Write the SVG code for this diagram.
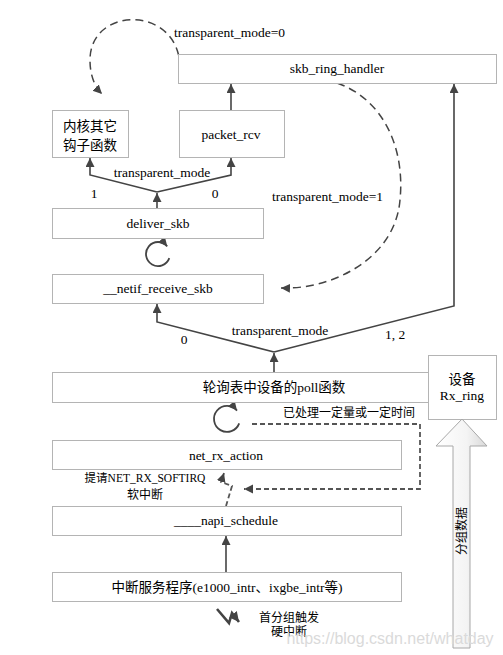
<svg xmlns="http://www.w3.org/2000/svg" width="503" height="655" viewBox="0 0 503 655">
<style>
.box{fill:#fff;stroke:#b4b4b4;stroke-width:1}
.t{font-family:"Liberation Serif","Noto Sans CJK SC",serif;font-size:13.5px;fill:#000;text-anchor:middle}
.ts{font-family:"Liberation Serif","Noto Sans CJK SC",serif;font-size:13.5px;fill:#000;text-anchor:start}
.s{font-family:"Liberation Serif","Noto Sans CJK SC",serif;font-size:12px;fill:#000;text-anchor:middle}
.ss{font-family:"Liberation Serif","Noto Sans CJK SC",serif;font-size:12px;fill:#000;text-anchor:start}
.ln{fill:none;stroke:#444;stroke-width:1.6}
.dash{fill:none;stroke:#444;stroke-width:1.5;stroke-dasharray:8 5}
.dash2{fill:none;stroke:#555;stroke-width:1.8;stroke-dasharray:5 3}
</style>
<defs>
<marker id="ah" markerUnits="userSpaceOnUse" markerWidth="12" markerHeight="12" refX="9" refY="4.5" orient="auto">
<path d="M0,0 L9,4.5 L0,9 z" fill="#444"/>
</marker>
<marker id="ahb" markerUnits="userSpaceOnUse" markerWidth="14" markerHeight="14" refX="10" refY="5" orient="auto">
<path d="M0,0 L10,5 L0,10 z" fill="#444"/>
</marker>
<linearGradient id="hg" x1="0" y1="0" x2="1" y2="0">
<stop offset="0" stop-color="#ffffff"/>
<stop offset="0.6" stop-color="#f4f4f4"/>
<stop offset="1" stop-color="#d8d8d8"/>
</linearGradient>
</defs>

<g id="connectors">
<path class="ln" d="M231 110 L231 84" marker-end="url(#ah)"/>
<path class="ln" d="M157 208 L157 193" marker-end="url(#ah)"/>
<path class="ln" d="M157 192 L90 175 L90 158" marker-end="url(#ah)"/>
<path class="ln" d="M157 192 L231 175 L231 158" marker-end="url(#ah)"/>
<path class="ln" d="M274 372 L274 353" marker-end="url(#ah)"/>
<path class="ln" d="M274 352 L157 322 L157 304" marker-end="url(#ah)"/>
<path class="ln" d="M274 352 L454 306 L454 84" marker-end="url(#ah)"/>
<path class="ln" d="M226 572 L226 536" marker-end="url(#ah)"/>
<path class="dash" d="M180 68 C180 5 90 5 90 60 C90 76 95 87 102 94" marker-end="url(#ah)"/>
<path class="dash" d="M337 83 C385 100 405 150 400 200 C395 260 330 290 281 288" marker-end="url(#ah)"/>
<path class="dash2" d="M252 424 L420 424 L420 489 L244 489" marker-end="url(#ah)"/>
<path class="dash2" d="M226 506 L232 486 L221 482 L224 473" marker-end="url(#ah)"/>
<path fill="none" stroke="#444" stroke-width="2.6" d="M217 609 L229 623 L232 613 L239 622" marker-end="url(#ahb)"/>
<path fill="none" stroke="#444" stroke-width="1.8" d="M169.3 258.1 A12 12 0 1 1 167.2 246.3" marker-end="url(#ah)"/>
<path fill="none" stroke="#444" stroke-width="1.8" d="M239.2 423.4 A13 13 0 1 1 237 410.6" marker-end="url(#ah)"/>
</g>

<g id="n-skb-ring-handler"><rect class="box" x="178.5" y="54.5" width="318" height="29"/><text class="t" x="337" y="73">skb_ring_handler</text></g>
<g id="n-hooks"><rect class="box" x="52.5" y="110.5" width="76" height="47"/><text class="t" x="90" y="131">内核其它</text><text class="t" x="90" y="150">钩子函数</text></g>
<g id="n-packet-rcv"><rect class="box" x="179.5" y="110.5" width="105" height="47"/><text class="t" x="231" y="139">packet_rcv</text></g>
<g id="n-deliver-skb"><rect class="box" x="52.5" y="208.5" width="211" height="30"/><text class="t" x="158" y="228">deliver_skb</text></g>
<g id="n-netif-receive-skb"><rect class="box" x="52.5" y="274.5" width="211" height="29"/><text class="t" x="158" y="293">__netif_receive_skb</text></g>
<g id="n-poll"><rect class="box" x="52.5" y="372.5" width="444" height="30"/><text class="t" x="274" y="392">轮询表中设备的poll函数</text></g>
<g id="n-rx-ring"><rect class="box" x="428.5" y="355.5" width="68" height="64"/><text class="t" x="462" y="384">设备</text><text class="t" x="462" y="400">Rx_ring</text></g>
<g id="n-net-rx-action"><rect class="box" x="52.5" y="440.5" width="349" height="29"/><text class="t" x="226" y="460">net_rx_action</text></g>
<g id="n-napi-schedule"><rect class="box" x="52.5" y="506.5" width="349" height="29"/><text class="t" x="226" y="525">____napi_schedule</text></g>
<g id="n-isr"><rect class="box" x="52.5" y="572.5" width="349" height="29"/><text class="t" x="227" y="592">中断服务程序(e1000_intr、ixgbe_intr等)</text></g>

<g id="n-packet-data">
<polygon points="462,419 487,446 470,446 470,648 453,648 453,446 436,446" fill="url(#hg)" stroke="#a8a8a8" stroke-width="1"/>
<text class="s" transform="translate(466 531) rotate(-90)">分组数据</text>
</g>

<g id="labels">
<text class="ts" x="174" y="37">transparent_mode=0</text>
<text class="t" x="162" y="177">transparent_mode</text>
<text class="t" x="94" y="198">1</text>
<text class="t" x="215" y="198">0</text>
<text class="ts" x="272" y="201">transparent_mode=1</text>
<text class="t" x="280" y="335">transparent_mode</text>
<text class="t" x="184" y="344">0</text>
<text class="t" x="395" y="339">1, 2</text>
<text class="ss" x="283" y="417">已处理一定量或一定时间</text>
<text class="s" x="145" y="482" style="font-size:11.5px">提请NET_RX_SOFTIRQ</text>
<text class="s" x="145" y="499">软中断</text>
<text class="s" x="289" y="622">首分组触发</text>
<text class="s" x="289" y="636">硬中断</text>
<text x="390" y="644" style="font-family:'Liberation Sans',sans-serif;font-size:16px;fill:#dadada;text-anchor:middle">https://blog.csdn.net/whatday</text>
</g>
</svg>
